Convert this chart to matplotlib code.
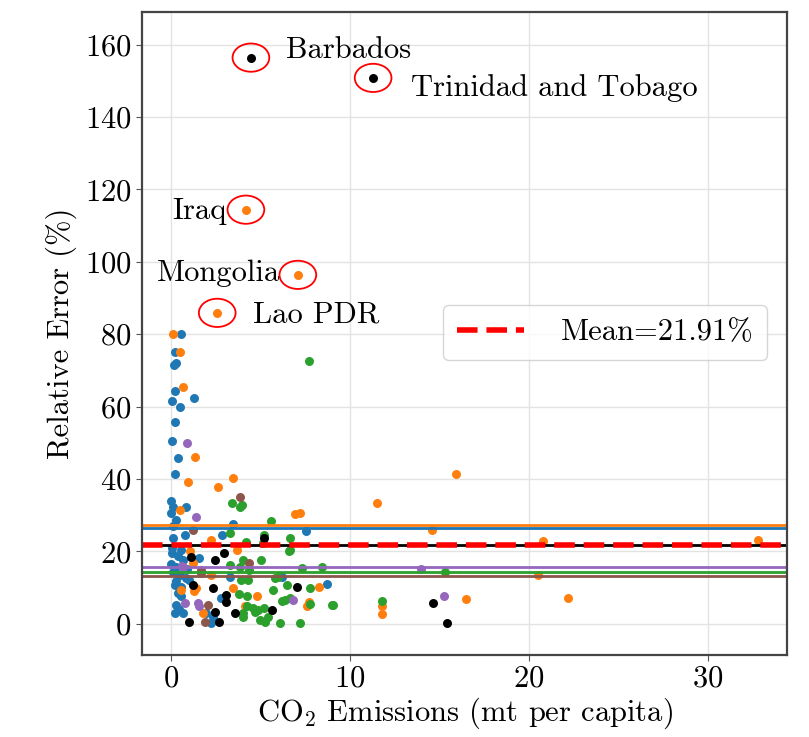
import matplotlib
matplotlib.use("Agg")
import matplotlib.pyplot as plt
from matplotlib.patches import Ellipse

plt.rcParams['font.family'] = ['cmr10', 'DejaVu Serif']
plt.rcParams['mathtext.fontset'] = 'cm'
plt.rcParams['axes.formatter.use_mathtext'] = True

# group points: (CO2 per capita, relative error %)
blue_x = [0.6, 0.22, 0.17, 0.32, 0.26, 0.07, 0.5, 1.3, 0.24, 0.06, 0.43, 0.24,
          0.04, 0.13, 0.88, 0.0, 0.32, 0.15, 0.13, 0.78, 2.84, 3.5, 7.56,
          0.1, 0.4, 0.7, 1.6, 0.0, 0.3, 0.9, 0.15, 0.5, 0.85, 0.3, 0.22, 0.6, 0.4,
          0.6, 0.3, 0.22, 0.7, 0.45, 2.37, 2.28, 2.0, 2.8, 3.3, 6.2, 8.7, 1.0, 0.05, 0.55]
blue_y = [80.1, 75.0, 71.5, 72.0, 64.4, 61.6, 60.0, 62.3, 55.7, 50.5, 45.8, 41.4,
          33.8, 32.4, 32.4, 30.7, 28.7, 27.0, 23.7, 24.6, 24.6, 27.6, 25.7,
          19.5, 18.8, 17.6, 18.1, 16.6, 15.8, 15.2, 14.3, 13.4, 12.6, 11.8, 10.8, 10.2, 8.5,
          7.6, 5.2, 3.0, 3.0, 4.2, 2.0, 0.2, 3.0, 7.1, 12.8, 12.9, 11.0, 12.0, 21.0, 20.5]

orange_x = [4.2, 7.1, 2.6, 0.13, 0.5, 0.69, 1.36, 0.97, 2.65, 3.5, 0.5, 2.28, 1.06,
            1.25, 2.28, 1.44, 3.5, 0.6, 1.8, 3.7, 1.3, 6.95, 7.23, 4.8, 4.15, 7.7,
            7.6, 8.3, 15.9, 11.5, 14.6, 20.8, 20.5, 11.8, 11.8, 16.5, 22.2, 32.8]
orange_y = [114.4, 96.4, 85.9, 80.1, 75.0, 65.3, 46.1, 39.3, 37.9, 40.2, 31.5, 23.2, 20.0,
            16.8, 13.5, 9.9, 9.9, 9.4, 3.0, 20.4, 9.0, 30.4, 30.6, 7.6, 4.8, 5.9,
            4.8, 10.3, 41.5, 33.4, 25.8, 23.0, 13.4, 4.8, 2.8, 6.8, 7.1, 23.1]

green_x = [7.7, 3.4, 3.87, 3.96, 5.58, 5.17, 3.3, 5.2, 6.67, 6.67, 4.05, 5.07, 4.4,
           3.87, 7.32, 8.44, 5.83, 6.48, 7.8, 5.73, 4.24, 3.8, 6.2, 6.4, 6.67, 7.8,
           9.0, 4.6, 4.9, 5.2, 5.45, 5.0, 4.7, 6.1, 7.23, 5.27, 4.05, 4.24, 4.05,
           3.9, 4.3, 6.0, 11.8, 15.3, 9.06, 4.2, 6.6, 3.3]
green_y = [72.5, 33.3, 32.4, 32.9, 28.3, 22.3, 25.1, 24.6, 23.7, 20.4, 17.7, 17.5, 14.9,
           15.8, 15.4, 15.8, 12.6, 10.8, 9.9, 9.4, 7.6, 8.3, 6.2, 6.6, 7.1, 5.5,
           5.2, 4.3, 3.9, 4.3, 2.0, 1.1, 3.4, 0.2, 0.2, 0.6, 2.0, 4.8, 3.0,
           12.2, 12.0, 12.8, 6.2, 14.3, 5.2, 22.5, 20.0, 16.3]

purple_x = [0.91, 1.4, 0.7, 0.78, 1.5, 1.6, 6.85, 13.95, 15.25, 0.63]
purple_y = [50.0, 29.5, 15.8, 5.7, 5.7, 4.8, 6.6, 15.2, 7.8, 16.0]

brown_x = [3.87, 1.25, 1.7, 2.1, 1.9, 4.4, 1.7]
brown_y = [35.0, 26.0, 14.9, 5.2, 0.6, 16.8, 14.0]

black_x = [4.48, 11.3, 5.2, 1.16, 2.46, 3.0, 1.25, 2.37, 3.1, 3.1, 2.46, 2.7, 1.0,
           7.04, 5.64, 3.6, 14.65, 15.4]
black_y = [156.4, 150.8, 23.7, 18.6, 17.7, 19.5, 10.8, 9.9, 8.0, 6.1, 3.4, 0.6, 0.4,
           10.1, 3.9, 3.0, 5.8, 0.2]

# group mean lines
group_colors = ['tab:orange', 'tab:blue', 'black', 'tab:purple', 'tab:green', 'tab:brown']
group_means = [27.3, 26.5, 21.91, 15.7, 14.2, 13.3]
overall_mean = 21.91

# outliers
out_names = ['Barbados', 'Trinidad and Tobago', 'Iraq', 'Mongolia', 'Lao PDR']
out_x = [4.48, 11.3, 4.2, 7.1, 2.6]
out_y = [156.4, 150.8, 114.4, 96.4, 85.9]
label_x = [6.45, 13.4, 3.15, 6.1, 4.6]
label_y = [158.3, 148.0, 114.0, 96.8, 85.5]
label_ha = ['left', 'left', 'right', 'right', 'left']

fig = plt.figure(figsize=(8.09, 7.37), dpi=100)
ax = fig.add_axes([0.1755, 0.1113, 0.7973, 0.8724])

for xs, ys, c in [(blue_x, blue_y, 'tab:blue'), (orange_x, orange_y, 'tab:orange'),
                  (green_x, green_y, 'tab:green'), (purple_x, purple_y, 'tab:purple'),
                  (brown_x, brown_y, 'tab:brown'), (black_x, black_y, 'black')]:
    ax.scatter(xs, ys, s=42, color=c, linewidths=0)

for c, m in zip(group_colors, group_means):
    ax.axhline(m, color=c, lw=2)
ax.axhline(overall_mean, color='red', lw=4, ls='--', label='Mean=%.2f%%' % overall_mean)

for name, x, y, lx, ly, ha in zip(out_names, out_x, out_y, label_x, label_y, label_ha):
    ax.add_patch(Ellipse((x, y), 2.05, 7.8, fill=False, edgecolor='red', lw=1.3))
    ax.text(lx, ly, name, fontsize=22, ha=ha, va='center')

ax.set_xlim(-1.6, 34.4)
ax.set_ylim(-8.6, 169)
ax.set_xticks([0, 10, 20, 30])
ax.set_yticks(range(0, 161, 20))
ax.tick_params(labelsize=22, color='#555555', length=4)
ax.grid(True, color='#e3e3e3', lw=1)
ax.set_axisbelow(True)
for sp in ax.spines.values():
    sp.set_color('#444444')
    sp.set_linewidth(1.6)

ax.set_xlabel(r'CO$_2$ Emissions (mt per capita)', fontsize=22, labelpad=2)
ax.set_ylabel('Relative Error (%)', fontsize=22, labelpad=6)
ax.legend(loc='upper right', bbox_to_anchor=(0.969, 0.544), borderaxespad=0,
          fontsize=22, handlelength=2.2, handletextpad=1.2, borderpad=0.45)

fig.savefig('out.png')
